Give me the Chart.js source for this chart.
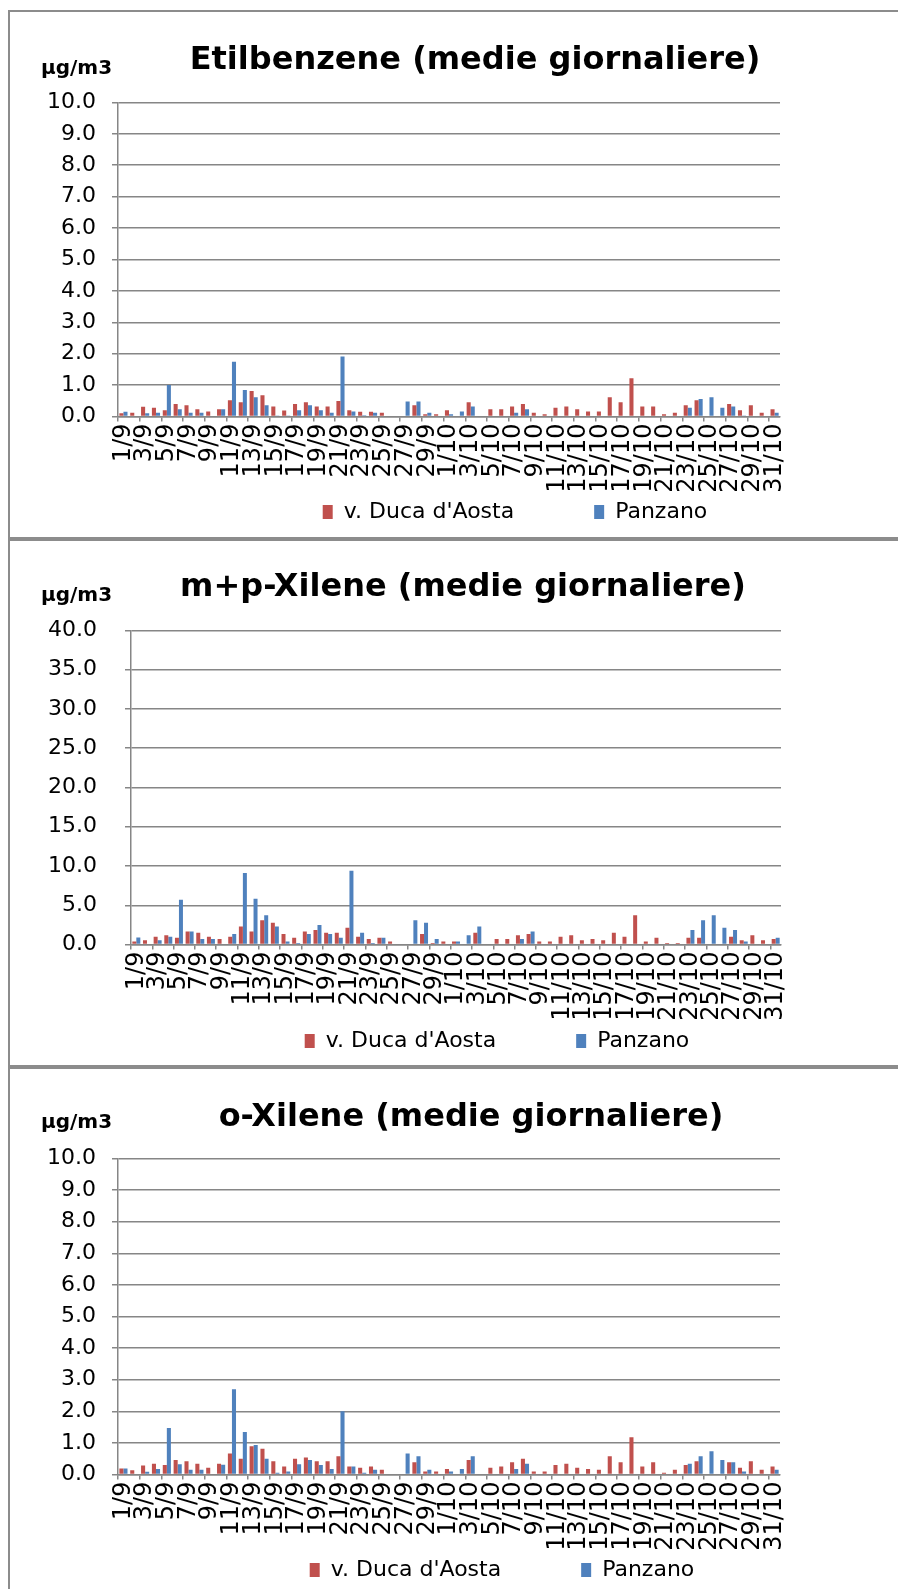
<!DOCTYPE html>
<html>
<head>
<meta charset="utf-8">
<script src="https://cdn.jsdelivr.net/npm/chart.js@4.4.0/dist/chart.umd.min.js"></script>
<style>
html,body{margin:0;padding:0;background:#fff;overflow:hidden;}
body{width:898px;height:1589px;position:relative;}
.riquadro{position:absolute;left:8px;width:910px;border:2px solid #8c8c8c;border-right:none;box-sizing:border-box;}
canvas{position:absolute;left:10px;}
</style>
</head>
<body>
<div class="riquadro" style="top:10px;height:529px"></div>
<div class="riquadro" style="top:539px;height:528px"></div>
<div class="riquadro" style="top:1067px;height:540px"></div>
<canvas id="c1" width="888" height="526" style="top:12px"></canvas>
<canvas id="c2" width="888" height="525" style="top:541px"></canvas>
<canvas id="c3" width="888" height="530" style="top:1069px"></canvas>
<script>
//#dati
const giorni = ['1/9','2/9','3/9','4/9','5/9','6/9','7/9','8/9','9/9','10/9',
  '11/9','12/9','13/9','14/9','15/9','16/9','17/9','18/9','19/9','20/9',
  '21/9','22/9','23/9','24/9','25/9','26/9','27/9','28/9','29/9','30/9',
  '1/10','2/10','3/10','4/10','5/10','6/10','7/10','8/10','9/10','10/10',
  '11/10','12/10','13/10','14/10','15/10','16/10','17/10','18/10','19/10','20/10',
  '21/10','22/10','23/10','24/10','25/10','26/10','27/10','28/10','29/10','30/10','31/10']

// Etilbenzene
const etilDuca = [0.10,0.12,0.31,0.28,0.20,0.40,0.36,0.23,0.16,0.23,
  0.52,0.45,0.81,0.68,0.32,0.19,0.40,0.45,0.32,0.32,
  0.49,0.20,0.15,0.15,0.12,null,null,0.36,0.07,0.07,
  0.20,null,0.45,null,0.23,0.23,0.32,0.40,0.12,0.07,
  0.28,0.32,0.23,0.16,0.16,0.61,0.45,1.22,0.32,0.32,
  0.07,0.12,0.36,0.52,null,null,0.40,0.20,0.36,0.12,0.23]
const etilPanzano = [0.15,null,0.10,0.12,1.00,0.23,0.12,0.12,null,0.23,
  1.74,0.84,0.61,0.36,0.03,0.03,0.20,0.36,0.20,0.12,
  1.91,0.16,0.04,0.12,null,null,0.48,0.48,0.12,null,
  0.07,0.16,0.32,null,null,null,0.12,0.23,null,null,
  null,null,null,null,null,null,null,null,null,null,
  null,null,0.28,0.56,0.61,0.28,0.32,0.03,null,null,0.12]

// m+p-Xilene
const mpDuca = [0.40,0.55,1.00,1.18,0.88,1.68,1.50,1.00,0.71,1.00,
  2.30,1.68,3.10,2.77,1.34,0.88,1.68,1.85,1.50,1.50,
  2.14,1.00,0.71,0.88,0.38,null,null,1.34,0.20,0.38,
  0.38,null,1.50,null,0.71,0.71,1.18,1.34,0.38,0.38,
  1.00,1.18,0.55,0.71,0.55,1.50,1.00,3.74,0.38,0.88,
  0.20,0.20,0.88,0.88,null,null,1.00,0.55,1.18,0.55,0.71]
const mpPanzano = [0.90,null,0.55,1.00,5.70,1.68,0.71,0.71,null,1.34,
  9.10,5.84,3.74,2.30,0.38,0.20,1.34,2.48,1.34,0.88,
  9.40,1.50,0.20,0.88,null,null,3.10,2.77,0.71,null,
  0.38,1.18,2.30,null,null,null,0.71,1.68,null,null,
  null,null,null,null,null,null,null,null,null,null,
  null,null,1.85,3.10,3.74,2.14,1.85,0.38,null,null,0.88]

// o-Xilene
const oDuca = [0.19,0.14,0.29,0.34,0.30,0.46,0.42,0.34,0.22,0.34,
  0.67,0.50,0.90,0.82,0.42,0.26,0.50,0.54,0.42,0.42,
  0.58,0.26,0.22,0.26,0.15,null,null,0.39,0.10,0.10,
  0.18,null,0.46,null,0.22,0.26,0.39,0.50,0.10,0.10,
  0.30,0.34,0.22,0.18,0.15,0.58,0.39,1.18,0.26,0.39,
  0.06,0.15,0.30,0.42,null,null,0.39,0.22,0.42,0.15,0.26]
const oPanzano = [0.19,null,0.09,0.18,1.47,0.33,0.15,0.15,null,0.31,
  2.70,1.35,0.94,0.50,0.06,0.10,0.33,0.46,0.30,0.18,
  2.00,0.26,0.06,0.15,null,null,0.67,0.58,0.15,null,
  0.10,0.18,0.58,null,null,null,0.18,0.34,null,null,
  null,null,null,null,null,null,null,null,null,null,
  null,null,0.34,0.58,0.74,0.46,0.39,0.10,null,null,0.15]

const nomeDuca = "v. Duca d'Aosta"
const nomePanzano = 'Panzano'
const rosso = '#C0504D'
const blu = '#4F81BD'
const grigio = '#868686'
const font = 'DejaVu Sans'

// sposta titolo e legenda (posizione manuale come in excel) e scrive l'unita di misura
const pluginPosizioni = {
    id: 'posizioni',
    afterLayout(chart, args, opt) {
        const leg = chart.legend
        if (leg) {
            const dx = opt.legendaX - (leg.left + leg.right) / 2
            leg.left += dx
            leg.right += dx
            const pad = leg.options.labels.padding
            leg.top = opt.legendaY - pad - 11
            leg.bottom = leg.top + pad + 22 + 10 //la legenda ritaglia il suo box
        }
        const tit = chart.titleBlock
        if (tit) {
            const dx = opt.titoloX - (tit.left + tit.right) / 2
            tit.left += dx
            tit.right += dx
        }
    },
    afterDraw(chart, args, opt) {
        const ctx = chart.ctx
        ctx.save()
        ctx.font = 'bold 20px "' + font + '"'
        ctx.fillStyle = '#000'
        ctx.textBaseline = 'middle'
        ctx.textAlign = 'left'
        ctx.fillText('µg/m3', opt.unitaX, opt.unitaY)
        ctx.restore()
    }
}

function creaGrafico(id, titolo, duca, panzano, massimo, passo, cfg) {
    const ctx = document.getElementById(id).getContext('2d')
    return new Chart(ctx, {
        type: 'bar',
        data: {
            labels: giorni,
            datasets: [{
                label: nomeDuca,
                data: duca,
                backgroundColor: rosso,
                borderWidth: 0,
                categoryPercentage: 0.75,
                barPercentage: 1
            }, {
                label: nomePanzano,
                data: panzano,
                backgroundColor: blu,
                borderWidth: 0,
                categoryPercentage: 0.75,
                barPercentage: 1
            }]
        },
        options: {
            responsive: false,
            animation: false,
            layout: {padding: {left: 0, top: 0, right: cfg.destra, bottom: 0}},
            scales: {
                x: {
                    afterFit: (s) => { s.height = cfg.altezzaX },
                    grid: {
                        offset: true,
                        drawOnChartArea: false,
                        tickLength: 5,
                        lineWidth: 1.5,
                        tickColor: (c) => c.index % 2 === 0 ? grigio : 'rgba(0,0,0,0)'
                    },
                    border: {display: true, color: grigio, width: 1.5},
                    ticks: {
                        autoSkip: false,
                        minRotation: 90,
                        maxRotation: 90,
                        padding: 2,
                        color: '#000',
                        font: {family: font, size: 24},
                        callback: function(v, i) { return i % 2 === 0 ? this.getLabelForValue(v) : '' }
                    }
                },
                y: {
                    min: 0,
                    max: massimo,
                    afterFit: (s) => { s.width = cfg.larghezzaY },
                    grid: {color: grigio, lineWidth: 1.5, tickLength: 6},
                    border: {display: true, color: grigio, width: 1.5},
                    ticks: {
                        stepSize: passo,
                        padding: cfg.padY,
                        color: '#000',
                        font: {family: font, size: 22},
                        callback: (v) => v.toFixed(1)
                    }
                }
            },
            plugins: {
                title: {
                    display: true,
                    text: titolo,
                    color: '#000',
                    font: {family: font, size: 32, weight: 'bold', lineHeight: 1.2},
                    padding: {top: cfg.titoloSopra, bottom: cfg.titoloSotto}
                },
                legend: {
                    position: 'bottom',
                    maxHeight: 30,
                    labels: {
                        boxWidth: 10,
                        boxHeight: 14,
                        padding: 80,
                        color: '#000',
                        font: {family: font, size: 22}
                    }
                },
                tooltip: {enabled: false},
                posizioni: {
                    legendaX: cfg.legendaX,
                    legendaY: cfg.legendaY,
                    titoloX: cfg.titoloX,
                    unitaX: 31,
                    unitaY: cfg.unitaY
                }
            }
        },
        plugins: [pluginPosizioni]
    })
}

creaGrafico('c1', 'Etilbenzene (medie giornaliere)', etilDuca, etilPanzano, 10, 1,
    {destra: 118, altezzaX: 91.5, larghezzaY: 108, padY: 16, titoloSopra: 29.8, titoloSotto: 22.2,
     legendaX: 505, legendaY: 500, titoloX: 465, unitaY: 57})
creaGrafico('c2', 'm+p-Xilene (medie giornaliere)', mpDuca, mpPanzano, 40, 5,
    {destra: 117, altezzaX: 91.4, larghezzaY: 121, padY: 28, titoloSopra: 27.8, titoloSotto: 23.2,
     legendaX: 487, legendaY: 500, titoloX: 453, unitaY: 55})
creaGrafico('c3', 'o-Xilene (medie giornaliere)', oDuca, oPanzano, 10, 1,
    {destra: 118, altezzaX: 94.4, larghezzaY: 108, padY: 16, titoloSopra: 29.8, titoloSotto: 21.2,
     legendaX: 492, legendaY: 501, titoloX: 461, unitaY: 54})
</script>
</body>
</html>
